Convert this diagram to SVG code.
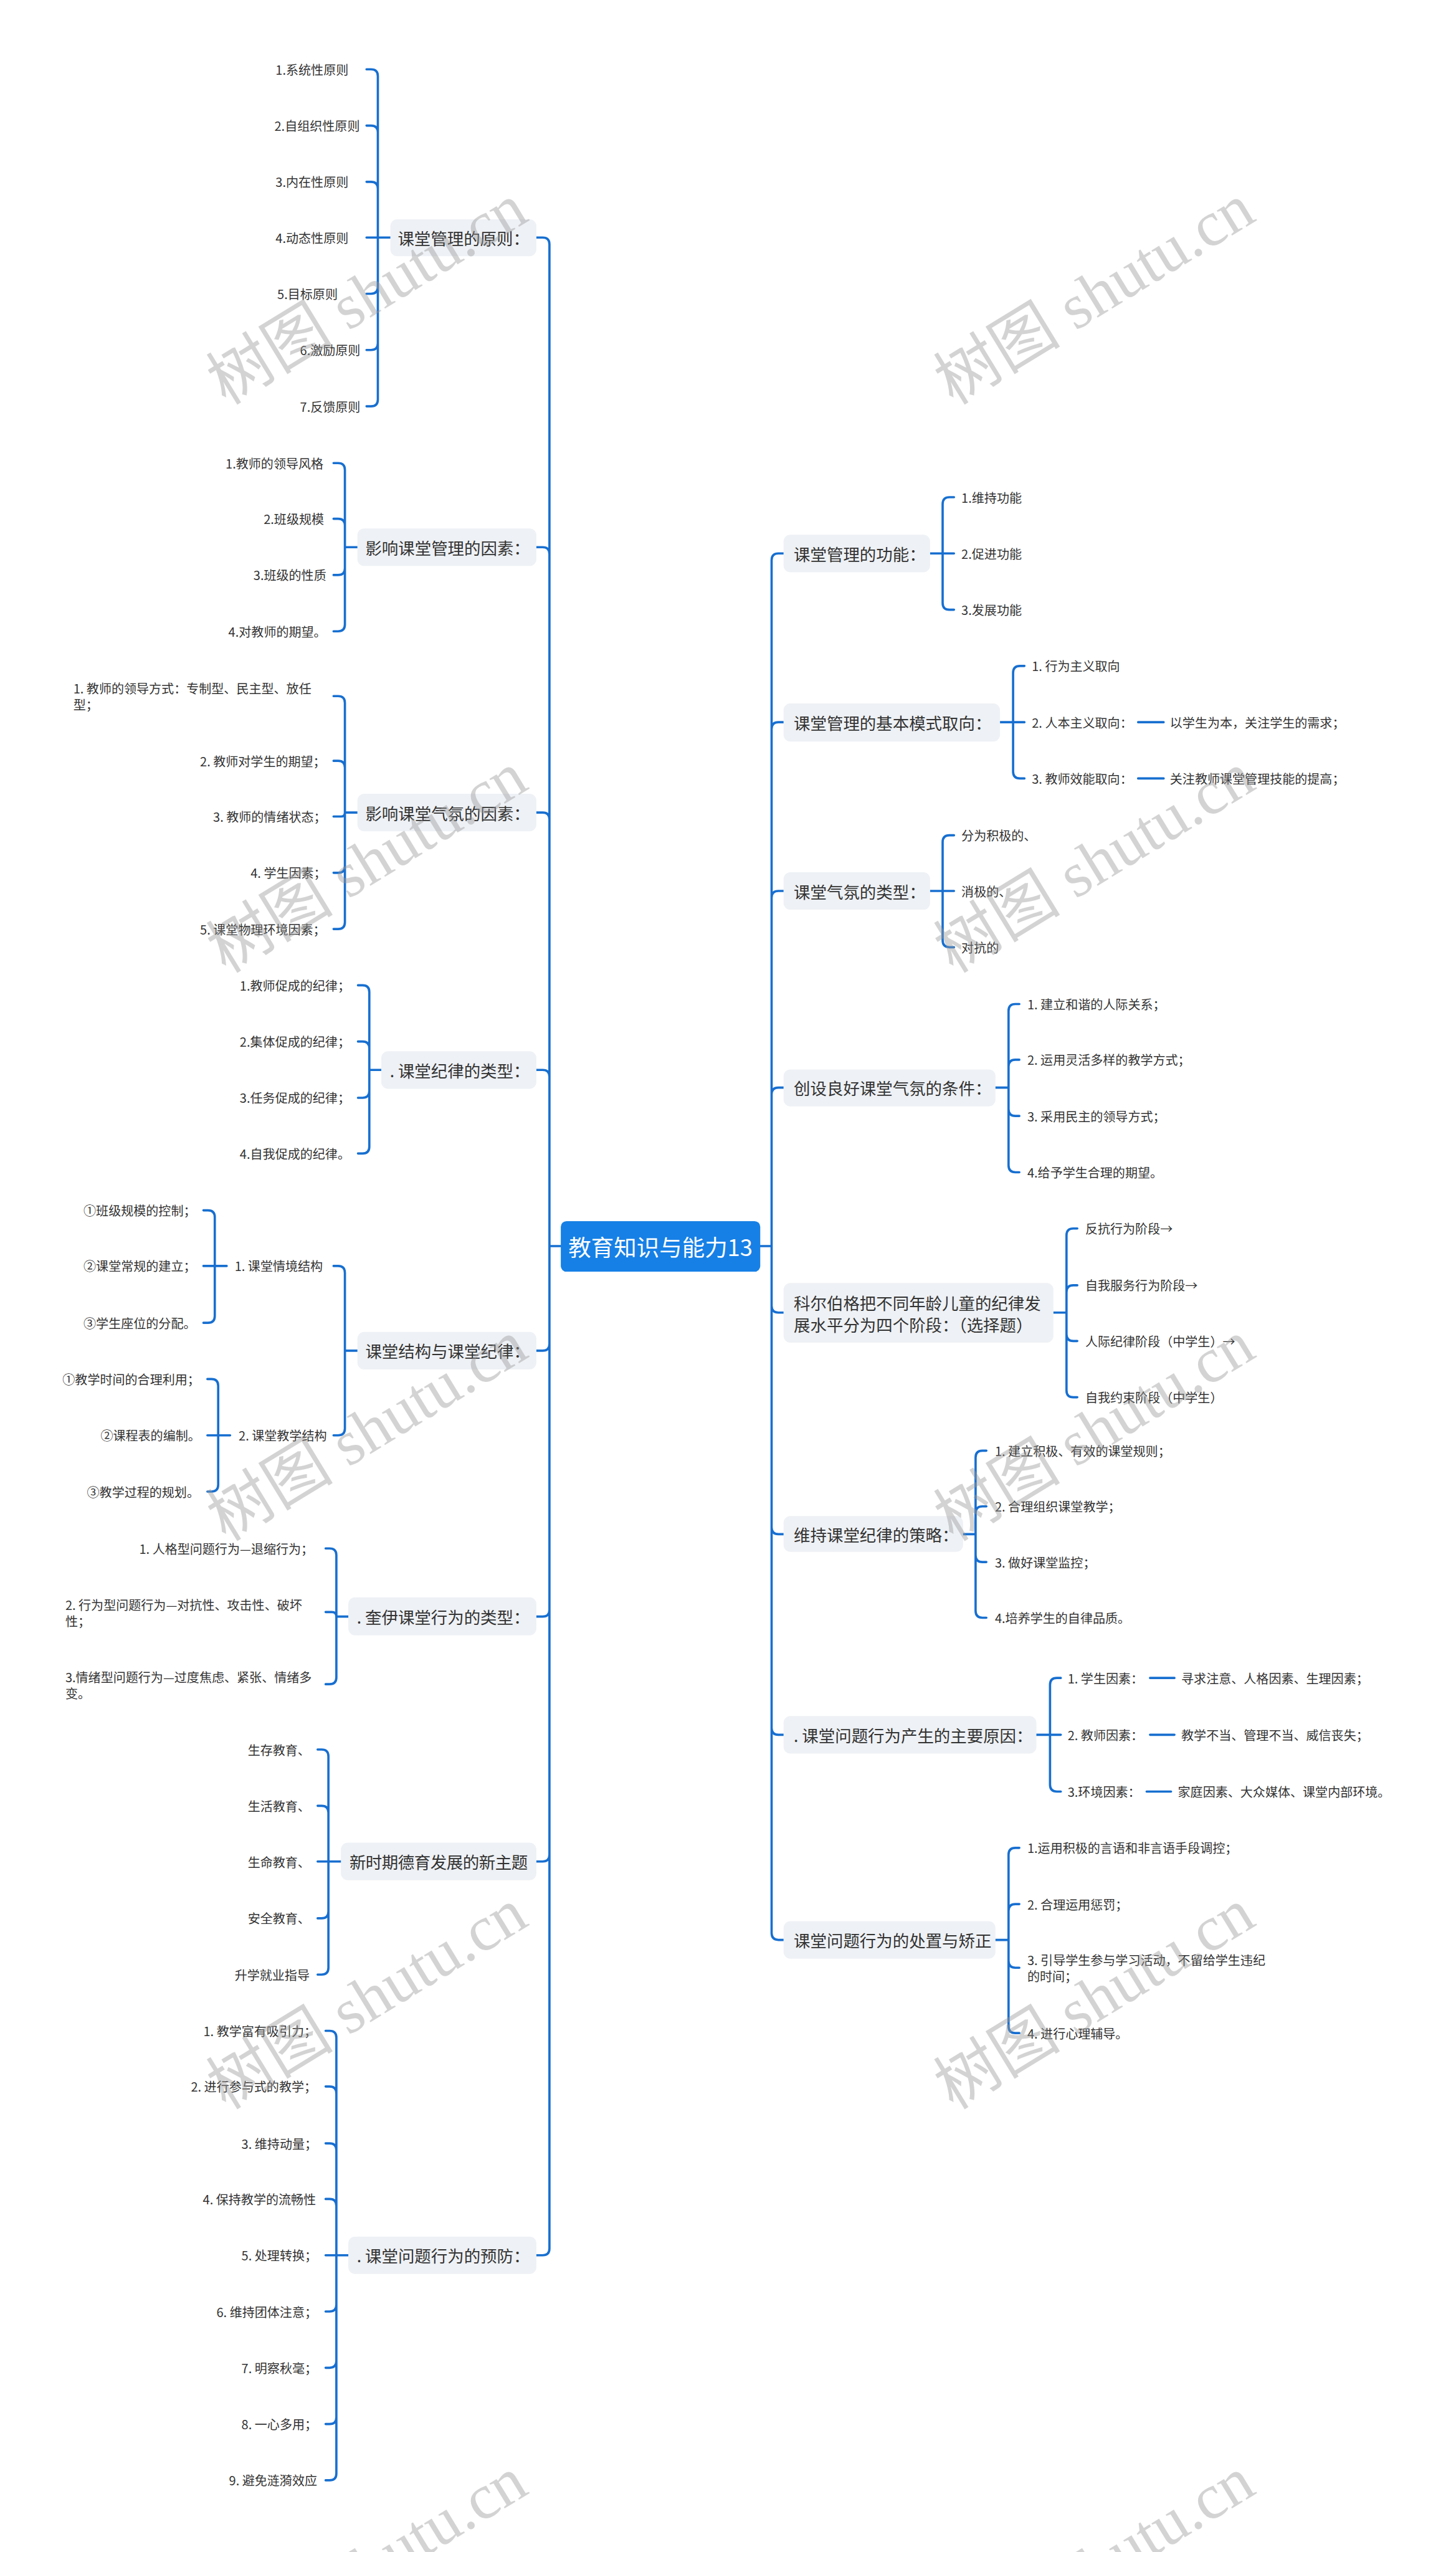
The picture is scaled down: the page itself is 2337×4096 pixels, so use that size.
<svg xmlns="http://www.w3.org/2000/svg" width="2337" height="4096" viewBox="0 0 2337 4096">
<style>
.c{fill:none;stroke:#176fd0;stroke-width:4;stroke-linecap:round;stroke-linejoin:round}
.b{fill:#eef1f5}
.bt{font-family:"Noto Sans CJK SC","Noto Sans",sans-serif;font-size:29px;fill:#333;dominant-baseline:central}
.lt{font-family:"Noto Sans CJK SC","Noto Sans",sans-serif;font-size:22px;fill:#333;dominant-baseline:central}
.ct{font-family:"Noto Sans CJK SC","Noto Sans",sans-serif;font-size:40px;fill:#fff;dominant-baseline:central;text-anchor:middle}
.wm{font-family:"Liberation Serif","Noto Sans CJK SC",serif;font-size:112px;fill:#999;opacity:0.42;text-anchor:middle;dominant-baseline:central}
</style>
<rect width="2337" height="4096" fill="#fff"/>
<g transform="scale(0.912)">
<g id="connectors">
<path class="c" d="M987 2193H967V430Q967 418 955 418H944M987 2193H967V975Q967 963 955 963H944M987 2193H967V1442Q967 1430 955 1430H944M987 2193H967V1895Q967 1883 955 1883H944M987 2193H967V2365Q967 2377 955 2377H944M987 2193H967V2833Q967 2845 955 2845H944M987 2193H967V3264Q967 3276 955 3276H944M987 2193H967V3957Q967 3969 955 3969H944"/>
<path class="c" d="M1338 2193H1358V986Q1358 974 1370 974H1379M1338 2193H1358V1283Q1358 1271 1370 1271H1379M1338 2193H1358V1580Q1358 1568 1370 1568H1379M1338 2193H1358V1926Q1358 1914 1370 1914H1379M1338 2193H1358V2298Q1358 2310 1370 2310H1379M1338 2193H1358V2688Q1358 2700 1370 2700H1379M1338 2193H1358V3041Q1358 3053 1370 3053H1379M1338 2193H1358V3402Q1358 3414 1370 3414H1379"/>
<path class="c" d="M687 418H665V134Q665 122 653 122H645M687 418H665V233Q665 221 653 221H645M687 418H665V332Q665 320 653 320H645M687 418H645M687 418H665V505Q665 517 653 517H645M687 418H665V604Q665 616 653 616H645M687 418H665V703Q665 715 653 715H645"/>
<path class="c" d="M629 963H607V827Q607 815 595 815H587M629 963H607V925Q607 913 595 913H587M629 963H607V1000Q607 1012 595 1012H587M629 963H607V1099Q607 1111 595 1111H587"/>
<path class="c" d="M629 1430H607V1237Q607 1225 595 1225H587M629 1430H607V1351Q607 1339 595 1339H587M629 1430H607Q607 1437 600 1437H587M629 1430H607V1524Q607 1536 595 1536H587M629 1430H607V1623Q607 1635 595 1635H587"/>
<path class="c" d="M671 1883H650V1746Q650 1734 638 1734H630M671 1883H650V1845Q650 1833 638 1833H630M671 1883H650V1920Q650 1932 638 1932H630M671 1883H650V2018Q650 2030 638 2030H630"/>
<path class="c" d="M629 2377H607V2240Q607 2228 595 2228H587M629 2377H607V2514Q607 2526 595 2526H587"/>
<path class="c" d="M399 2228H378V2142Q378 2130 366 2130H358M399 2228H358M399 2228H378V2316Q378 2328 366 2328H358"/>
<path class="c" d="M405 2526H384V2439Q384 2427 372 2427H365M405 2526H365M405 2526H384V2613Q384 2625 372 2625H365"/>
<path class="c" d="M613 2845H592V2737Q592 2725 580 2725H573M613 2845H592Q592 2837 584 2837H573M613 2845H592V2952Q592 2964 580 2964H573"/>
<path class="c" d="M601 3276H578V3091Q578 3079 566 3079H559M601 3276H578V3190Q578 3178 566 3178H559M601 3276H559M601 3276H578V3364Q578 3376 566 3376H559M601 3276H578V3463Q578 3475 566 3475H559"/>
<path class="c" d="M613 3969H592V3586Q592 3574 580 3574H573M613 3969H592V3684Q592 3672 580 3672H573M613 3969H592V3784Q592 3772 580 3772H573M613 3969H592V3882Q592 3870 580 3870H573M613 3969H573M613 3969H592V4056Q592 4068 580 4068H573M613 3969H592V4155Q592 4167 580 4167H573M613 3969H592V4254Q592 4266 580 4266H573M613 3969H592V4353Q592 4365 580 4365H573"/>
<path class="c" d="M1637 974H1659V887Q1659 875 1671 875H1679M1637 974H1679M1637 974H1659V1061Q1659 1073 1671 1073H1679"/>
<path class="c" d="M1760 1271H1783V1184Q1783 1172 1795 1172H1803M1760 1271H1803M1760 1271H1783V1358Q1783 1370 1795 1370H1803M2003 1271H2048M2003 1370H2048"/>
<path class="c" d="M1637 1568H1659V1482Q1659 1470 1671 1470H1679M1637 1568H1679M1637 1568H1659V1655Q1659 1667 1671 1667H1679"/>
<path class="c" d="M1752 1914H1775V1779Q1775 1767 1787 1767H1794M1752 1914H1775V1877Q1775 1865 1787 1865H1794M1752 1914H1775V1952Q1775 1964 1787 1964H1794M1752 1914H1775V2051Q1775 2063 1787 2063H1794"/>
<path class="c" d="M1854 2310H1877V2174Q1877 2162 1889 2162H1896M1854 2310H1877V2274Q1877 2262 1889 2262H1896M1854 2310H1877V2348Q1877 2360 1889 2360H1896M1854 2310H1877V2447Q1877 2459 1889 2459H1896"/>
<path class="c" d="M1695 2700H1717V2565Q1717 2553 1729 2553H1736M1695 2700H1717V2663Q1717 2651 1729 2651H1736M1695 2700H1717V2737Q1717 2749 1729 2749H1736M1695 2700H1717V2835Q1717 2847 1729 2847H1736"/>
<path class="c" d="M1824 3053H1848V2965Q1848 2953 1860 2953H1867M1824 3053H1867M1824 3053H1848V3141Q1848 3153 1860 3153H1867M2024 2953H2067M2024 3053H2067M2018 3153H2061"/>
<path class="c" d="M1752 3414H1775V3264Q1775 3252 1787 3252H1794M1752 3414H1775V3363Q1775 3351 1787 3351H1794M1752 3414H1775V3451Q1775 3463 1787 3463H1794M1752 3414H1775V3566Q1775 3578 1787 3578H1794"/>
</g>

<g id="root">
<rect x="987" y="2149" width="351" height="89" rx="10" fill="#1680e6"/>
<text class="ct" x="1162.5" y="2193">教育知识与能力13</text>
</g>

<g id="L1">
<rect class="b" x="687" y="386" width="257" height="65" rx="12"/>
<text class="bt" x="700" y="418">课堂管理的原则：</text>
<text class="lt" x="485" y="122">1.系统性原则</text>
<text class="lt" x="483" y="221">2.自组织性原则</text>
<text class="lt" x="485" y="320">3.内在性原则</text>
<text class="lt" x="485" y="418">4.动态性原则</text>
<text class="lt" x="488" y="517">5.目标原则</text>
<text class="lt" x="528" y="616">6.激励原则</text>
<text class="lt" x="528" y="715">7.反馈原则</text>
</g>

<g id="L2">
<rect class="b" x="629" y="930" width="315" height="66" rx="12"/>
<text class="bt" x="643" y="963">影响课堂管理的因素：</text>
<text class="lt" x="397" y="815">1.教师的领导风格</text>
<text class="lt" x="464" y="913">2.班级规模</text>
<text class="lt" x="446" y="1012">3.班级的性质</text>
<text class="lt" x="402" y="1111">4.对教师的期望。</text>
</g>

<g id="L3">
<rect class="b" x="629" y="1397" width="315" height="66" rx="12"/>
<text class="bt" x="643" y="1430">影响课堂气氛的因素：</text>
<text class="lt"><tspan x="129" y="1211">1. 教师的领导方式：专制型、民主型、放任</tspan><tspan x="129" y="1239">型；</tspan></text>
<text class="lt" x="352" y="1339">2. 教师对学生的期望；</text>
<text class="lt" x="375" y="1437">3. 教师的情绪状态；</text>
<text class="lt" x="441" y="1536">4. 学生因素；</text>
<text class="lt" x="352" y="1635">5. 课堂物理环境因素；</text>
</g>

<g id="L4">
<rect class="b" x="671" y="1850" width="273" height="66" rx="12"/>
<text class="bt" x="686" y="1883">. 课堂纪律的类型：</text>
<text class="lt" x="422" y="1734">1.教师促成的纪律；</text>
<text class="lt" x="422" y="1833">2.集体促成的纪律；</text>
<text class="lt" x="422" y="1932">3.任务促成的纪律；</text>
<text class="lt" x="422" y="2030">4.自我促成的纪律。</text>
</g>

<g id="L5">
<rect class="b" x="629" y="2344" width="315" height="66" rx="12"/>
<text class="bt" x="643" y="2377">课堂结构与课堂纪律：</text>
<text class="lt" x="413" y="2228">1. 课堂情境结构</text>
<text class="lt" x="420" y="2526">2. 课堂教学结构</text>
<text class="lt" x="147" y="2130">①班级规模的控制；</text>
<text class="lt" x="147" y="2228">②课堂常规的建立；</text>
<text class="lt" x="147" y="2328">③学生座位的分配。</text>
<text class="lt" x="110" y="2427">①教学时间的合理利用；</text>
<text class="lt" x="177" y="2526">②课程表的编制。</text>
<text class="lt" x="153" y="2625">③教学过程的规划。</text>
</g>

<g id="L6">
<rect class="b" x="613" y="2811" width="331" height="67" rx="12"/>
<text class="bt" x="628" y="2845">. 奎伊课堂行为的类型：</text>
<text class="lt" x="245" y="2725">1. 人格型问题行为—退缩行为；</text>
<text class="lt"><tspan x="115" y="2824">2. 行为型问题行为—对抗性、攻击性、破坏</tspan><tspan x="115" y="2852">性；</tspan></text>
<text class="lt"><tspan x="115" y="2951">3.情绪型问题行为—过度焦虑、紧张、情绪多</tspan><tspan x="115" y="2979">变。</tspan></text>
</g>

<g id="L7">
<rect class="b" x="600" y="3243" width="344" height="66" rx="12"/>
<text class="bt" x="615" y="3276" textLength="314" lengthAdjust="spacing">新时期德育发展的新主题</text>
<text class="lt" x="436" y="3079">生存教育、</text>
<text class="lt" x="436" y="3178">生活教育、</text>
<text class="lt" x="436" y="3277">生命教育、</text>
<text class="lt" x="436" y="3376">安全教育、</text>
<text class="lt" x="413" y="3475">升学就业指导</text>
</g>

<g id="L8">
<rect class="b" x="613" y="3936" width="331" height="66" rx="12"/>
<text class="bt" x="628" y="3969">. 课堂问题行为的预防：</text>
<text class="lt" x="358" y="3574">1. 教学富有吸引力；</text>
<text class="lt" x="336" y="3672">2. 进行参与式的教学；</text>
<text class="lt" x="425" y="3772">3. 维持动量；</text>
<text class="lt" x="357" y="3870">4. 保持教学的流畅性</text>
<text class="lt" x="425" y="3969">5. 处理转换；</text>
<text class="lt" x="381" y="4068">6. 维持团体注意；</text>
<text class="lt" x="425" y="4167">7. 明察秋毫；</text>
<text class="lt" x="425" y="4266">8. 一心多用；</text>
<text class="lt" x="403" y="4365">9. 避免涟漪效应</text>
</g>

<g id="R1">
<rect class="b" x="1379" y="941" width="258" height="66" rx="12"/>
<text class="bt" x="1397" y="974">课堂管理的功能：</text>
<text class="lt" x="1692" y="875">1.维持功能</text>
<text class="lt" x="1692" y="974">2.促进功能</text>
<text class="lt" x="1692" y="1073">3.发展功能</text>
</g>

<g id="R2">
<rect class="b" x="1379" y="1238" width="381" height="67" rx="12"/>
<text class="bt" x="1397" y="1271">课堂管理的基本模式取向：</text>
<text class="lt" x="1816" y="1172">1. 行为主义取向</text>
<text class="lt" x="1816" y="1271">2. 人本主义取向：</text>
<text class="lt" x="1816" y="1370">3. 教师效能取向：</text>
<text class="lt" x="2059" y="1271">以学生为本，关注学生的需求；</text>
<text class="lt" x="2059" y="1370">关注教师课堂管理技能的提高；</text>
</g>

<g id="R3">
<rect class="b" x="1379" y="1535" width="258" height="66" rx="12"/>
<text class="bt" x="1397" y="1568">课堂气氛的类型：</text>
<text class="lt" x="1692" y="1470">分为积极的、</text>
<text class="lt" x="1692" y="1568">消极的、</text>
<text class="lt" x="1692" y="1667">对抗的</text>
</g>

<g id="R4">
<rect class="b" x="1379" y="1882" width="373" height="65" rx="12"/>
<text class="bt" x="1397" y="1914">创设良好课堂气氛的条件：</text>
<text class="lt" x="1808" y="1767">1. 建立和谐的人际关系；</text>
<text class="lt" x="1808" y="1865">2. 运用灵活多样的教学方式；</text>
<text class="lt" x="1808" y="1964">3. 采用民主的领导方式；</text>
<text class="lt" x="1808" y="2063">4.给予学生合理的期望。</text>
</g>

<g id="R5">
<rect class="b" x="1379" y="2258" width="475" height="105" rx="12"/>
<text class="bt"><tspan x="1397" y="2292">科尔伯格把不同年龄儿童的纪律发</tspan><tspan x="1397" y="2330">展水平分为四个阶段：（选择题）</tspan></text>
<text class="lt" x="1910" y="2162">反抗行为阶段→</text>
<text class="lt" x="1910" y="2262">自我服务行为阶段→</text>
<text class="lt" x="1910" y="2360">人际纪律阶段（中学生）→</text>
<text class="lt" x="1910" y="2459">自我约束阶段（中学生）</text>
</g>

<g id="R6">
<rect class="b" x="1379" y="2668" width="316" height="63" rx="12"/>
<text class="bt" x="1397" y="2700">维持课堂纪律的策略：</text>
<text class="lt" x="1751" y="2553">1. 建立积极、有效的课堂规则；</text>
<text class="lt" x="1751" y="2651">2. 合理组织课堂教学；</text>
<text class="lt" x="1751" y="2749">3. 做好课堂监控；</text>
<text class="lt" x="1751" y="2847">4.培养学生的自律品质。</text>
</g>

<g id="R7">
<rect class="b" x="1379" y="3020" width="445" height="66" rx="12"/>
<text class="bt" x="1397" y="3053">. 课堂问题行为产生的主要原因：</text>
<text class="lt" x="1879" y="2953">1. 学生因素：</text>
<text class="lt" x="1879" y="3053">2. 教师因素：</text>
<text class="lt" x="1879" y="3153">3.环境因素：</text>
<text class="lt" x="2079" y="2953">寻求注意、人格因素、生理因素；</text>
<text class="lt" x="2079" y="3053">教学不当、管理不当、威信丧失；</text>
<text class="lt" x="2073" y="3153">家庭因素、大众媒体、课堂内部环境。</text>
</g>

<g id="R8">
<rect class="b" x="1379" y="3381" width="373" height="66" rx="12"/>
<text class="bt" x="1397" y="3414">课堂问题行为的处置与矫正</text>
<text class="lt" x="1808" y="3252">1.运用积极的言语和非言语手段调控；</text>
<text class="lt" x="1808" y="3351">2. 合理运用惩罚；</text>
<text class="lt"><tspan x="1808" y="3449">3. 引导学生参与学习活动，不留给学生违纪</tspan><tspan x="1808" y="3477">的时间；</tspan></text>
<text class="lt" x="1808" y="3578">4. 进行心理辅导。</text>
</g>

<g id="watermarks">
<text class="wm" transform="translate(646 518) rotate(-31.4)">树图 shutu.cn</text>
<text class="wm" transform="translate(1926 518) rotate(-31.4)">树图 shutu.cn</text>
<text class="wm" transform="translate(646 1518) rotate(-31.4)">树图 shutu.cn</text>
<text class="wm" transform="translate(1926 1518) rotate(-31.4)">树图 shutu.cn</text>
<text class="wm" transform="translate(646 2518) rotate(-31.4)">树图 shutu.cn</text>
<text class="wm" transform="translate(1926 2518) rotate(-31.4)">树图 shutu.cn</text>
<text class="wm" transform="translate(646 3518) rotate(-31.4)">树图 shutu.cn</text>
<text class="wm" transform="translate(1926 3518) rotate(-31.4)">树图 shutu.cn</text>
<text class="wm" transform="translate(646 4518) rotate(-31.4)">树图 shutu.cn</text>
<text class="wm" transform="translate(1926 4518) rotate(-31.4)">树图 shutu.cn</text>
</g>
</g>
</svg>
